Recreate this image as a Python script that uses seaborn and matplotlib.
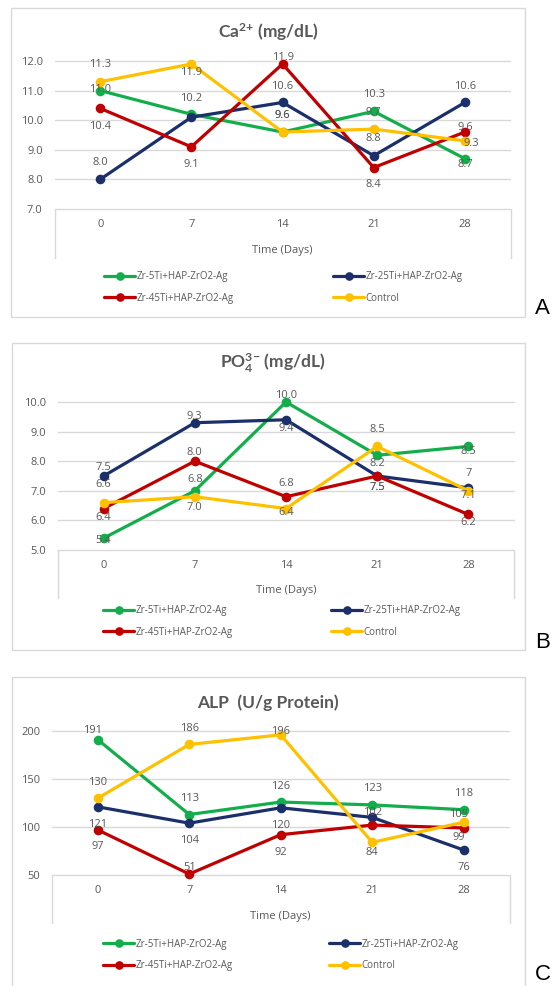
import matplotlib
matplotlib.use("Agg")
import matplotlib.pyplot as plt
import seaborn as sns
import pandas as pd
from matplotlib.lines import Line2D
from matplotlib.patches import Rectangle

# ---------------- data ----------------
days = ["0", "7", "14", "21", "28"]
series = ["Zr-5Ti+HAP-ZrO2-Ag", "Zr-25Ti+HAP-ZrO2-Ag", "Zr-45Ti+HAP-ZrO2-Ag", "Control"]

ca_5ti = [11.0, 10.2, 9.6, 10.3, 8.7]
ca_25ti = [8.0, 10.1, 10.6, 8.8, 10.6]
ca_45ti = [10.4, 9.1, 11.9, 8.4, 9.6]
ca_control = [11.3, 11.9, 9.6, 9.7, 9.3]

po4_5ti = [5.4, 7.0, 10.0, 8.2, 8.5]
po4_25ti = [7.5, 9.3, 9.4, 7.5, 7.1]
po4_45ti = [6.4, 8.0, 6.8, 7.5, 6.2]
po4_control = [6.6, 6.8, 6.4, 8.5, 7.0]

alp_5ti = [191, 113, 126, 123, 118]
alp_25ti = [121, 104, 120, 110, 76]
alp_45ti = [97, 51, 92, 102, 99]
alp_control = [130, 186, 196, 84, 105]

ca_ticks = [7, 8, 9, 10, 11, 12]
po4_ticks = [5, 6, 7, 8, 9, 10]
alp_ticks = [50, 100, 150, 200]

titles = [r"Ca$^{\mathbf{2{+}}}$ (mg/dL)", r"PO$_{\mathbf{4}}^{\mathbf{3{-}}}$ (mg/dL)", "ALP  (U/g Protein)"]
panel_letters = ["A", "B", "C"]
xlabel = "Time (Days)"

# ---------------- style ----------------
colors = ["#13AE4B", "#1B2F6B", "#C00000", "#FFC000"]
GRID = "#D9D9D9"
TXT = "#595959"

W, H = 552, 986
def fx(px):
    return px / W
def fy(py):
    return 1 - py / H

# per-panel layout in pixels
layouts = [
    dict(box=(10.6, 8.3, 524.5, 317), ax=(54.6, 61, 510.5, 209), xl_y=251, leg=(104, 333, 277, 298),
         title=(268, 32), letter=(535, 308), vline_to=258, fmt="{:.1f}"),
    dict(box=(11.5, 343, 525, 650), ax=(58, 402, 514, 550), xl_y=591, leg=(103, 331, 611, 632),
         title=(273, 363), letter=(535, 643), vline_to=598, fmt="{:.1f}"),
    dict(box=(11.5, 677, 525, 1000), ax=(52, 731, 509.5, 875), xl_y=917, leg=(103, 329, 944, 966),
         title=(268, 703), letter=(535, 974), vline_to=923, fmt="{:d}"),
]

# data label offsets in pixels (dx, dy up); None = label hidden behind another
label_offsets = [
    [[(0, 1), (0, 16), (0, 17), (0, 17), (0, -6)],
     [(0, 17), None, (0, 16), (0, 17), (0, 16)],
     [(0, -18), (0, -18), (0, 6), (0, -17), (0, 5)],
     [(0, 17), (0, -9), (0, 17), (0, 17), (6, -3)]],
    [[(0, -2), (0, -17), (0, 7), (0, -8), (0, -5)],
     [(0, 9), (0, 6), (0, -9), (0, -11), (0, -8)],
     [(0, -9), (0, 9), (0, 13), (0, -11), (0, -8)],
     [(0, 18), (0, 17), (0, -4), (0, 17), (0, 17)]],
    [[(-5, 9), (0, 16), (0, 16), (0, 16), (0, 16)],
     [(0, -18), (0, -17), (0, -18), None, (0, -17)],
     [(0, -17), (0, 7), (0, -18), (0, 13), (-5, -10)],
     [(0, 16), (0, 16), (0, 3), (0, -10), (-5, 8)]],
]
label_override = {(1, 3, 4): "7"}

panels = [
    ([ca_5ti, ca_25ti, ca_45ti, ca_control], ca_ticks),
    ([po4_5ti, po4_25ti, po4_45ti, po4_control], po4_ticks),
    ([alp_5ti, alp_25ti, alp_45ti, alp_control], alp_ticks),
]

sns.set_theme(style="white")
plt.rcParams["font.family"] = ["Open Sans", "DejaVu Sans"]
plt.rcParams["mathtext.fontset"] = "custom"
plt.rcParams["mathtext.rm"] = "Lato"
plt.rcParams["mathtext.bf"] = "Lato:bold"
plt.rcParams["mathtext.it"] = "Lato:italic"
plt.rcParams["mathtext.sf"] = "Lato"

fig = plt.figure(figsize=(W / 100, H / 100), dpi=100)
fig.patch.set_facecolor("white")

for p, ((vals, ticks), lay) in enumerate(zip(panels, layouts)):
    # outer box
    bx0, by0, bx1, by1 = lay["box"]
    fig.add_artist(Rectangle((fx(bx0), fy(by1)), (bx1 - bx0) / W, (by1 - by0) / H,
                             transform=fig.transFigure, facecolor="none",
                             edgecolor=GRID, lw=1.0, zorder=0))

    l, t, r, b = lay["ax"]
    ax = fig.add_axes([fx(l), fy(b), (r - l) / W, (b - t) / H])
    ax.patch.set_alpha(0)

    df = pd.DataFrame({
        "day": days * len(series),
        "value": [v for s in vals for v in s],
        "series": [name for name in series for _ in days],
    })
    sns.pointplot(data=df, x="day", y="value", hue="series", order=days, hue_order=series,
                  palette=colors, markers="o", linestyles="-", errorbar=None, ax=ax,
                  legend=False, markersize=5.2, linewidth=2.3)

    for art in list(ax.lines) + list(ax.collections):
        art.set_clip_on(False)

    ax.set_xlim(-0.5, len(days) - 0.5)
    ax.set_ylim(ticks[0], ticks[-1])
    ax.set_yticks(ticks)
    ax.set_yticklabels([lay["fmt"].format(tk) for tk in ticks])
    for s in ax.spines.values():
        s.set_visible(False)
    ax.yaxis.grid(True, color=GRID, lw=1.0)
    ax.xaxis.grid(False)
    ax.set_axisbelow(True)
    for gl in ax.get_ygridlines():
        gl.set_clip_on(False)
    ax.tick_params(axis="both", length=0, labelsize=8, colors=TXT)
    ax.tick_params(axis="x", pad=7)
    ax.tick_params(axis="y", pad=8.5)
    ax.set_xlabel("")
    ax.set_ylabel("")

    # data labels
    for si, s in enumerate(vals):
        for di, v in enumerate(s):
            off = label_offsets[p][si][di]
            if off is None:
                continue
            txt = label_override.get((p, si, di), lay["fmt"].format(v))
            ax.annotate(txt, (di, v), xytext=off, textcoords="offset pixels",
                        ha="center", va="center", fontsize=8, color=TXT, zorder=6,
                        annotation_clip=False)

    # vertical frame lines below the plot area
    for xv in (l, r):
        fig.add_artist(Line2D([fx(xv), fx(xv)], [fy(b), fy(lay["vline_to"])],
                              transform=fig.transFigure, color=GRID, lw=1.0))

    # axis title
    fig.text(fx((l + r) / 2), fy(lay["xl_y"]), xlabel, ha="center", va="center",
             fontsize=8, color=TXT)

    # chart title
    fig.text(fx(lay["title"][0]), fy(lay["title"][1]), titles[p], ha="center", va="center",
             fontsize=12.5, fontweight="bold", color=TXT, family="Lato")

    # panel letter
    fig.text(fx(lay["letter"][0]), fy(lay["letter"][1]), panel_letters[p], ha="left",
             va="center", fontsize=16, color="black", family="Liberation Sans")

    # legend (two columns, built as two single-column legends)
    handles = [Line2D([0], [0], color=c, lw=2.3, marker="o", markersize=5.2) for c in colors]
    x1, x2, r1, r2 = lay["leg"]
    for cols, xpos in (([0, 2], x1), ([1, 3], x2)):
        fig.legend([handles[i] for i in cols], [series[i] for i in cols], loc="center left",
                   bbox_to_anchor=(fx(xpos), fy((r1 + r2) / 2)), frameon=False, fontsize=7,
                   handlelength=3.2, handletextpad=0.15, labelspacing=1.05, borderpad=0,
                   borderaxespad=0, labelcolor=TXT)

fig.savefig("out.png", dpi=100, facecolor="white")
